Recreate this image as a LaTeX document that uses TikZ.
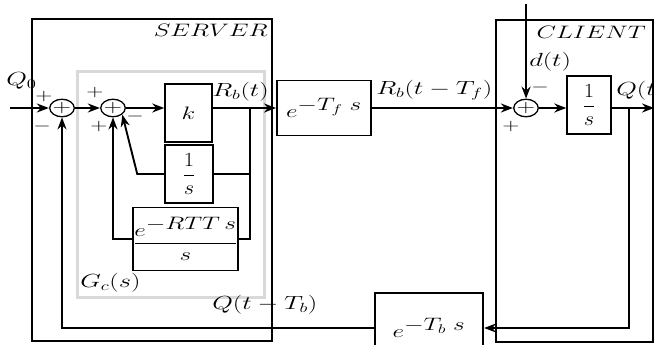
\RequirePackage{fix-cm}
\documentclass[tikz,border=0pt]{standalone}
\usepackage{amsmath}
\usepackage{graphicx}
\usetikzlibrary{arrows.meta,positioning,calc}

\tikzset{
  frame/.style={draw=black, line width=1.6pt},
  gcframe/.style={draw=black!15, line width=3pt},
  sumnode/.style={draw, circle, line width=1.3pt, minimum size=17.5pt, inner sep=0pt, font=\fontsize{18}{18}\selectfont},
  block/.style={draw, rectangle, line width=1.6pt, inner sep=0pt, font=\fontsize{18}{20}\selectfont},
  thinblock/.style={block, line width=1.1pt},
  wire/.style={line width=1.9pt},
  signal/.style={wire, -{Stealth[length=12pt,width=9pt]}},
  lbl/.style={inner sep=0pt, font=\fontsize{19}{22}\selectfont},
  sgn/.style={inner sep=0pt, font=\fontsize{16}{16}\selectfont},
  tag/.style={inner sep=0pt, font=\fontsize{18}{20}\selectfont}
}
\newcommand{\invs}{\scalebox{0.8}[1]{$\dfrac{1}{s}$}}

\begin{document}
\begin{tikzpicture}[x=0.7143pt, y=-1pt, xscale=1.4, every node/.append style={transform shape}]
\useasboundingbox (0,0) rectangle (654,345);
\clip (0,0) rectangle (654,345);

% Input label (partly under the frame)
\node[lbl, anchor=west] (q0) at (6,81) {$Q_0$};

% Frames
\draw[gcframe] (77,72) rectangle (264,297);
\draw[frame] (32,19) rectangle (272,341);
\draw[frame] (496,20) rectangle (653,342);
\node[tag, anchor=east] (srvtag) at (268,30) {$SERVER$};
\node[tag, anchor=east] (clttag) at (646,32) {$CLIENT$};
\node[lbl, anchor=west] (gclbl) at (80,283) {$G_c(s)$};

% Server blocks
\node[sumnode] (sum1) at (62,108) {$+$};
\node[sumnode] (sum2) at (113,108) {$+$};
\node[thinblock, minimum width=33.6pt, minimum height=58pt] (kgain) at (188.5,113) {$k$};
\node[thinblock, minimum width=34.3pt, minimum height=58pt, font=\fontsize{20}{22}\selectfont] (integ) at (189,174) {\invs};
\node[block, minimum width=75pt, minimum height=63pt] (rtt) at (185.5,239) {$\dfrac{\makebox[72pt]{$e^{\textstyle -RTT\,s}$}}{s}$};

% Channel delays
\node[block, minimum width=67pt, minimum height=55pt] (fwd) at (324,108) {$e^{\textstyle -T_f\;s}$};
\node[block, minimum width=77pt, minimum height=70pt] (bwd) at (429,328) {$e^{\textstyle -T_b\;s}$};

% Client blocks
\node[sumnode] (sum3) at (526,108) {$+$};
\node[thinblock, minimum width=31.4pt, minimum height=58pt, font=\fontsize{20}{22}\selectfont] (queue) at (589,105) {\invs};

% Free ends and branch points
\coordinate (qin) at (10,108);
\coordinate (rsplit) at (250,108);
\coordinate (dtop) at (526,4);
\coordinate (qout) at (654,108);
\coordinate (qsplit) at (629,108);

% Forward path
\draw[signal] (qin) -- (sum1.west);
\draw[signal] (sum1.east) -- (sum2.west);
\draw[signal] (sum2.east) -- (sum2.east -| kgain.west);
\draw[signal] (sum2.east -| kgain.east) -- (fwd.west);
\draw[signal] (fwd.east) -- (sum3.west);
\draw[signal] (dtop) -- (sum3.north);
\draw[signal] (sum3.east) -- (sum3.east -| queue.west);
\draw[signal] (sum3.east -| queue.east) -- (qout);

% Inner loops of G_c
\draw[wire] (rsplit) -- (rsplit |- rtt.east) -- (rtt.east);
\draw[wire] (integ.east) -- (integ.east -| rsplit);
\draw[signal] (integ.west) -- ++(-27,0) -- (sum2.south east);
\draw[signal] (rtt.west) -| (sum2.south);

% Backward path
\draw[signal] (qsplit) |- (bwd.east);
\draw[signal] (bwd.west) -| (sum1.south);

% Signal labels
\node[lbl, anchor=west] (rblbl) at (212,92) {$R_b(t)$};
\node[lbl, anchor=west] (rflbl) at (376,90) {$R_b(t-T_f)$};
\node[lbl, anchor=west] (dlbl) at (529,62) {$d(t)$};
\node[lbl, anchor=west] (qlbl) at (616,91) {$Q(t)$};
\node[lbl, anchor=west] (qblbl) at (212,305) {$Q(t-T_b)$};

% Signs at the summing points
\node[sgn] (s1p) at (44,96) {$+$};
\node[sgn] (s1m) at (42,127) {$-$};
\node[sgn] (s2p) at (95,93) {$+$};
\node[sgn] (s2q) at (99,126) {$+$};
\node[sgn] (s2m) at (135,117) {$-$};
\node[sgn] (s3m) at (540,88) {$-$};
\node[sgn] (s3p) at (511,127) {$+$};

\end{tikzpicture}
\end{document}
